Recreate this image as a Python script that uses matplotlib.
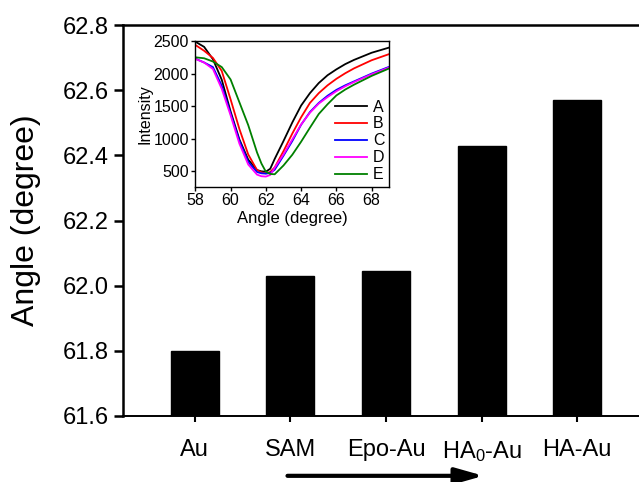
import numpy as np
import matplotlib
matplotlib.use("Agg")
import matplotlib.pyplot as plt

plt.rcParams['font.family'] = ['Liberation Sans', 'DejaVu Sans']
plt.rcParams['mathtext.default'] = 'regular'

# bar chart data
samples = ['Au', 'SAM', 'Epo-Au', 'HA$_0$-Au', 'HA-Au']
angles = [61.80, 62.03, 62.045, 62.43, 62.57]

# inset SPR curves
ang = [58, 58.5, 59, 59.5, 60, 60.5, 61, 61.5, 61.75, 62, 62.25, 62.5, 63, 63.5, 64, 64.5, 65, 65.5, 66, 66.5, 67, 68, 69]
curve_A = [2490, 2410, 2220, 1905, 1420, 990, 680, 520, 500, 495, 540, 690, 965, 1250, 1510, 1700, 1855, 1975, 2065, 2145, 2210, 2320, 2400]
curve_B = [2440, 2350, 2240, 2040, 1605, 1150, 760, 520, 485, 470, 490, 560, 810, 1080, 1330, 1550, 1700, 1820, 1920, 2005, 2080, 2205, 2300]
curve_C = [2230, 2170, 2100, 1815, 1390, 970, 645, 490, 470, 465, 475, 525, 740, 965, 1215, 1410, 1550, 1660, 1750, 1820, 1880, 2000, 2105]
curve_D = [2225, 2170, 2070, 1765, 1360, 925, 605, 450, 425, 420, 445, 555, 760, 990, 1220, 1400, 1540, 1640, 1730, 1805, 1870, 1990, 2095]
curve_E = [2250, 2235, 2185, 2100, 1910, 1560, 1210, 790, 620, 495, 460, 455, 590, 755, 955, 1170, 1380, 1530, 1665, 1755, 1830, 1965, 2080]

fig = plt.figure(figsize=(6.39, 4.82), dpi=100)
ax = fig.add_axes([123/639, 66/482, 526/639, 391/482])

x = np.arange(len(samples))
ax.bar(x, angles, width=0.5, color='k', edgecolor='k')
ax.set_xlim(-0.75, 4.75)
ax.set_ylim(61.6, 62.8)
ax.set_yticks(np.arange(61.6, 62.81, 0.2))
ax.set_yticklabels(['%.1f' % v for v in np.arange(61.6, 62.81, 0.2)])
ax.set_xticks(x)
ax.set_xticklabels(samples)
ax.set_ylabel('Angle (degree)', fontsize=23, labelpad=16)
ax.tick_params(axis='y', labelsize=17, width=1.8, length=6.5, direction='out')
ax.tick_params(axis='x', labelsize=17, width=1.5, length=4.5, direction='out', pad=12)
for s in ax.spines.values():
    s.set_linewidth(1.8)
ax.spines['bottom'].set_linewidth(1.4)

# process arrow under the labels
ax.annotate('', xy=(3.02, -0.153), xytext=(0.97, -0.153),
            xycoords=('data', 'axes fraction'), textcoords=('data', 'axes fraction'),
            arrowprops=dict(arrowstyle='-|>,head_length=0.6,head_width=0.17',
                            lw=3, color='k', mutation_scale=28, shrinkA=0, shrinkB=0),
            annotation_clip=False)

# inset
ins = fig.add_axes([195.3/639, 1 - 187/482, 194/639, 146/482])
ins.plot(ang, curve_A, c='k', lw=1.3, label='A')
ins.plot(ang, curve_B, c='r', lw=1.3, label='B')
ins.plot(ang, curve_C, c='b', lw=1.3, label='C')
ins.plot(ang, curve_D, c='#ff00ff', lw=1.3, label='D')
ins.plot(ang, curve_E, c='#008000', lw=1.3, label='E')
ins.set_xlim(58, 69)
ins.set_ylim(260, 2500)
ins.set_xticks([58, 60, 62, 64, 66, 68])
ins.set_yticks([500, 1000, 1500, 2000, 2500])
ins.tick_params(labelsize=11.5, width=1, length=3, pad=1.5)
ins.set_xlabel('Angle (degree)', fontsize=12, labelpad=2)
ins.set_ylabel('Intensity', fontsize=11.5, labelpad=1)
for s in ins.spines.values():
    s.set_linewidth(1)
ins.legend(loc='lower right', frameon=False, fontsize=11.5, handlelength=2.0,
           handletextpad=0.4, labelspacing=0.12, borderaxespad=0.05, borderpad=0.25)

fig.savefig('out.png', dpi=100)
